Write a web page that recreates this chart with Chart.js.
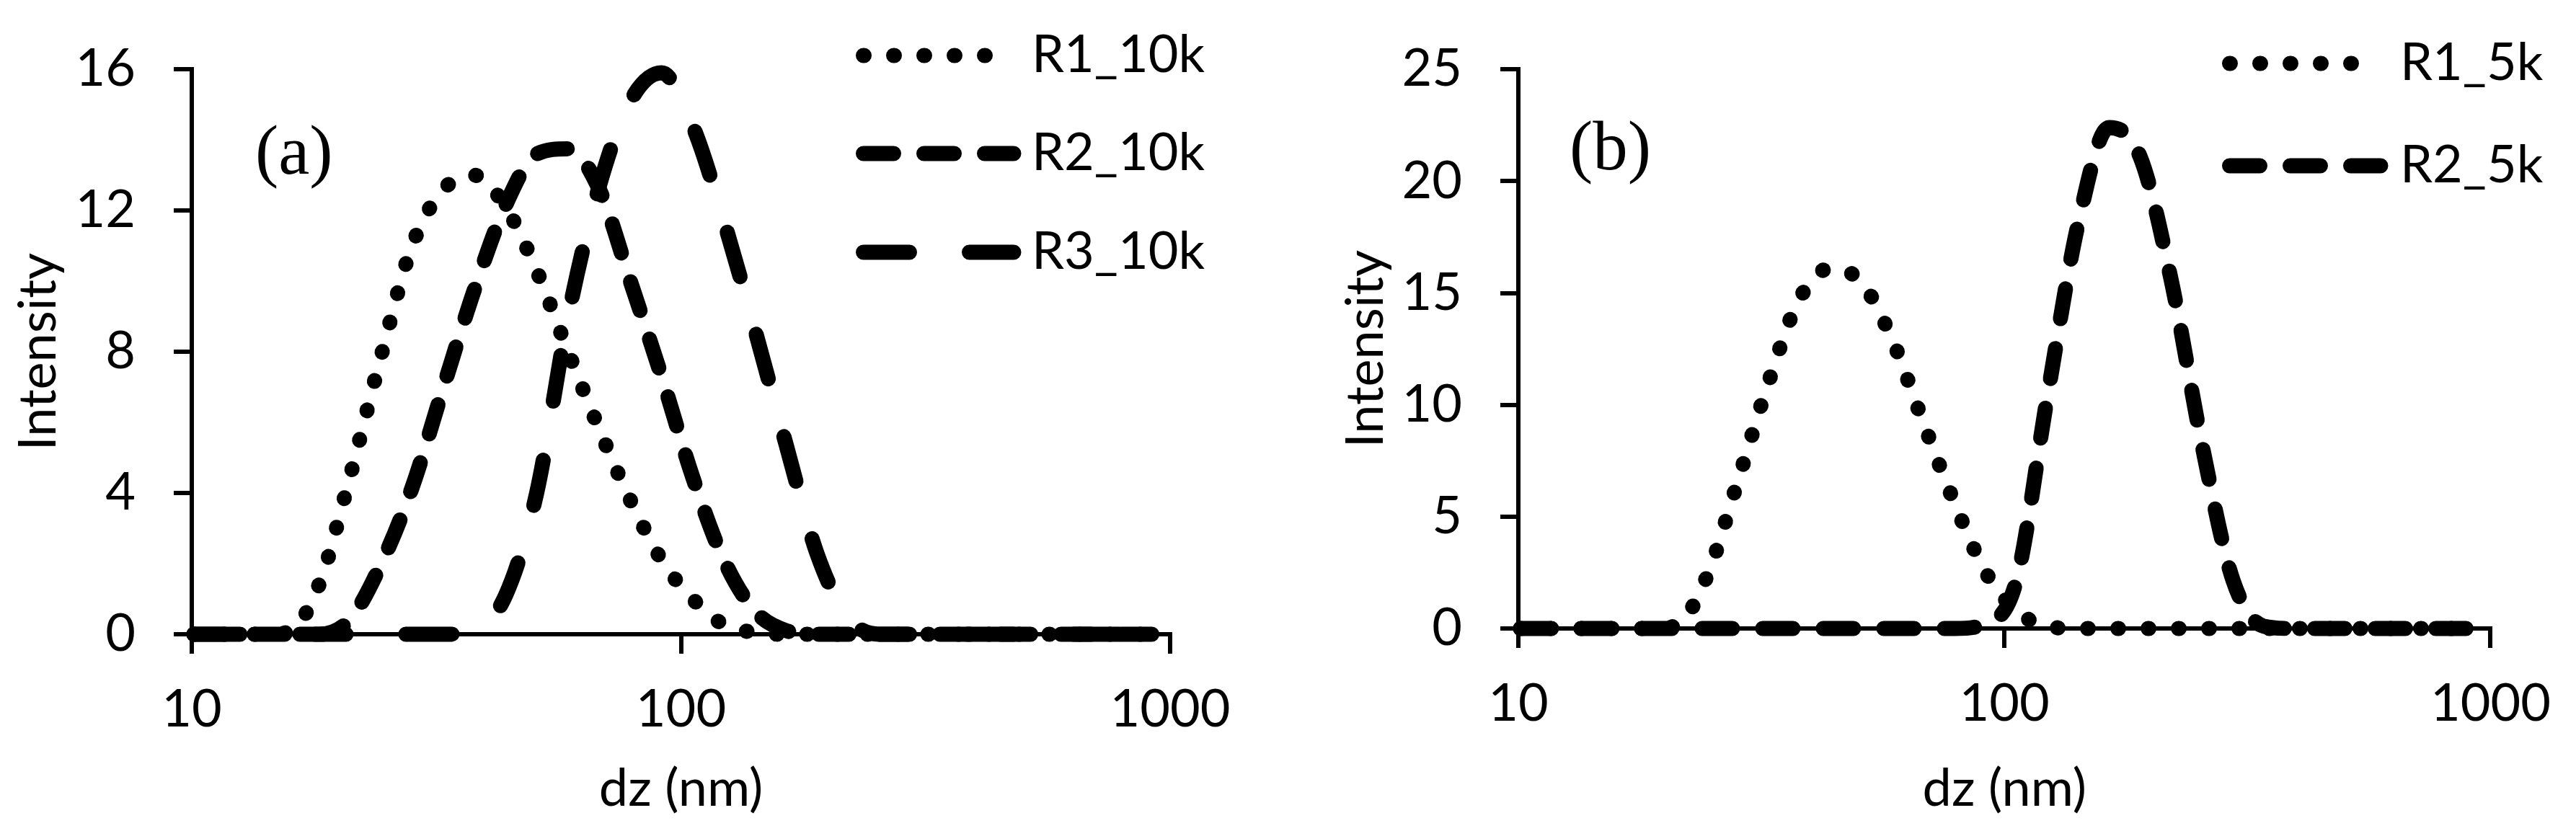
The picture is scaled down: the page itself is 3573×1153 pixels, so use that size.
<!DOCTYPE html>
<html>
<head>
<meta charset="utf-8">
<script src="https://cdn.jsdelivr.net/npm/chart.js@4.4.1/dist/chart.umd.min.js"></script>
<style>
html, body { margin: 0; padding: 0; background: #fff; }
#wrap { position: relative; width: 3573px; height: 1153px; }
canvas { position: absolute; top: 0; }
#chartA { left: 0; }
#chartB { left: 1786px; }
</style>
</head>
<body>
<div id="wrap">
    <canvas id="chartA" width="1786" height="1153"></canvas>
    <canvas id="chartB" width="1787" height="1153"></canvas>
</div>
<script>
// size classes (nm), log spaced
const sizes = [10.1, 11.7, 13.5, 15.7, 18.2, 21.0, 24.4, 28.2, 32.7, 37.8, 43.8, 50.7, 58.8, 68.1, 78.8, 91.3,
    105.7, 122.4, 141.8, 164.2, 190.1, 220.2, 255.0, 295.3, 342.0, 396.1, 458.7, 531.2, 615.1, 712.4, 825.0, 955.4];

// panel (a)
const r1_10k = [0, 0, 0, 0.05, 1.4, 4.4, 7.9, 11.0, 12.6, 13.0, 12.1, 10.3, 8.0, 5.8, 3.8, 2.1,
    1.0, 0.27, 0.05, 0, 0, 0, 0, 0, 0, 0, 0, 0, 0, 0, 0, 0];
const r2_10k = [0, 0, 0, 0, 0, 0.4, 2.0, 4.15, 7.0, 9.75, 12.15, 13.6, 13.75, 12.6, 10.0, 7.3,
    4.45, 2.1, 0.65, 0.1, 0, 0, 0, 0, 0, 0, 0, 0, 0, 0, 0, 0];
const r3_10k = [0, 0, 0, 0, 0, 0, 0, 0, 0, 0.1, 1.1, 4.0, 9.0, 12.7, 15.1, 15.9,
    14.4, 11.7, 8.6, 5.35, 2.25, 0.45, 0, 0, 0, 0, 0, 0, 0, 0, 0, 0];

// panel (b)
const r1_5k = [0, 0, 0, 0, 0, 0.1, 2.3, 6.5, 11.0, 14.7, 16.1, 15.5, 12.9, 9.2, 5.65, 2.55,
    0.8, 0.1, 0, 0, 0, 0, 0, 0, 0, 0, 0, 0, 0, 0, 0, 0];
const r2_5k = [0, 0, 0, 0, 0, 0, 0, 0, 0, 0, 0, 0, 0, 0, 0, 0.2,
    2.1, 10.3, 18.1, 22.4, 21.1, 15.6, 8.2, 2.15, 0.1, 0, 0, 0, 0, 0, 0, 0];

const xTicks = [10, 100, 1000];
const yTicksA = [0, 4, 8, 12, 16];
const yTicksB = [0, 5, 10, 15, 20, 25];

const dotted = [1, 41];
const dashed = [42, 42];
const longDash = [64, 83];

Chart.defaults.font.family = 'Lato';
Chart.defaults.font.size = 72;
Chart.defaults.color = '#000';

const toPoints = (vals) => sizes.map((s, i) => ({ x: s, y: vals[i] }));

const serie = (label, vals, dash) => ({
    label: label,
    data: toPoints(vals),
    borderColor: '#000',
    borderWidth: 21,
    borderDash: dash,
    borderCapStyle: 'round',
    borderJoinStyle: 'round',
    pointRadius: 0,
    cubicInterpolationMode: 'monotone',
    fill: false,
    clip: false
});

// legend lines and the (a)/(b) tag, drawn inside the plot
const figureExtras = {
    id: 'figureExtras',
    afterDraw(chart, args, opts) {
        const ctx = chart.ctx;
        ctx.save();
        ctx.fillStyle = '#000';
        ctx.strokeStyle = '#000';
        chart.data.datasets.forEach((ds, i) => {
            const y = opts.rows[i];
            ctx.lineWidth = ds.borderWidth;
            ctx.lineCap = 'round';
            ctx.setLineDash(ds.borderDash);
            ctx.beginPath();
            ctx.moveTo(opts.x0, y);
            ctx.lineTo(opts.x1, y);
            ctx.stroke();
            ctx.setLineDash([]);
            ctx.font = '72px Lato';
            ctx.textAlign = 'left';
            ctx.textBaseline = 'middle';
            ctx.fillText(ds.label, opts.textX, y);
        });
        ctx.font = '97px "Liberation Serif"';
        ctx.textAlign = 'left';
        ctx.textBaseline = 'alphabetic';
        ctx.fillText(opts.tag, opts.tagX, opts.tagY);
        ctx.restore();
    }
};

const makeChart = (id, datasets, yTicks, cfg) => {
    const ctx = document.getElementById(id).getContext('2d');
    return new Chart(ctx, {
        type: 'line',
        data: { datasets: datasets },
        plugins: [figureExtras],
        options: {
            responsive: false,
            animation: false,
            devicePixelRatio: 1,
            layout: { padding: { left: 0, top: cfg.top, right: cfg.right, bottom: 0 } },
            plugins: {
                legend: { display: false },
                tooltip: { enabled: false },
                figureExtras: cfg.extras
            },
            scales: {
                x: {
                    type: 'logarithmic',
                    min: xTicks[0],
                    max: xTicks[xTicks.length - 1],
                    afterBuildTicks: (scale) => { scale.ticks = xTicks.map(v => ({ value: v })); },
                    afterFit: (scale) => { scale.height = cfg.xHeight; },
                    ticks: { callback: (v) => String(v), padding: 35, maxRotation: 0, autoSkip: false },
                    grid: { drawOnChartArea: false, drawTicks: true, tickLength: 27, tickWidth: 6, tickColor: '#000', lineWidth: 6 },
                    border: { display: true, color: '#000', width: 6 },
                    title: { display: true, text: 'dz (nm)', padding: { top: 0, bottom: 15 } }
                },
                y: {
                    type: 'linear',
                    min: yTicks[0],
                    max: yTicks[yTicks.length - 1],
                    afterBuildTicks: (scale) => { scale.ticks = yTicks.map(v => ({ value: v })); },
                    afterFit: (scale) => { scale.width = cfg.yWidth; },
                    ticks: { callback: (v) => String(v), padding: 53 },
                    grid: { drawOnChartArea: false, drawTicks: true, tickLength: 25, tickWidth: 6, tickColor: '#000', lineWidth: 6 },
                    border: { display: true, color: '#000', width: 6 },
                    title: { display: true, text: 'Intensity', padding: { top: cfg.yTitlePad, bottom: 0 } }
                }
            }
        }
    });
};

const chartA = makeChart('chartA', [
    serie('R1_10k', r1_10k, dotted),
    serie('R2_10k', r2_10k, dashed),
    serie('R3_10k', r3_10k, longDash)
], yTicksA, {
    top: 68, right: 163, xHeight: 273, yWidth: 266, yTitlePad: 11,
    extras: { x0: 1197.5, x1: 1406, textX: 1431, rows: [77, 213, 350], tag: '(a)', tagX: 354, tagY: 241 }
});

const chartB = makeChart('chartB', [
    serie('R1_5k', r1_5k, dotted),
    serie('R2_5k', r2_5k, dashed)
], yTicksB, {
    top: 68, right: 105, xHeight: 281, yWidth: 320, yTitlePad: 66,
    extras: { x0: 1306.5, x1: 1516, textX: 1543, rows: [88, 230], tag: '(b)', tagX: 391, tagY: 235 }
});
</script>
</body>
</html>
